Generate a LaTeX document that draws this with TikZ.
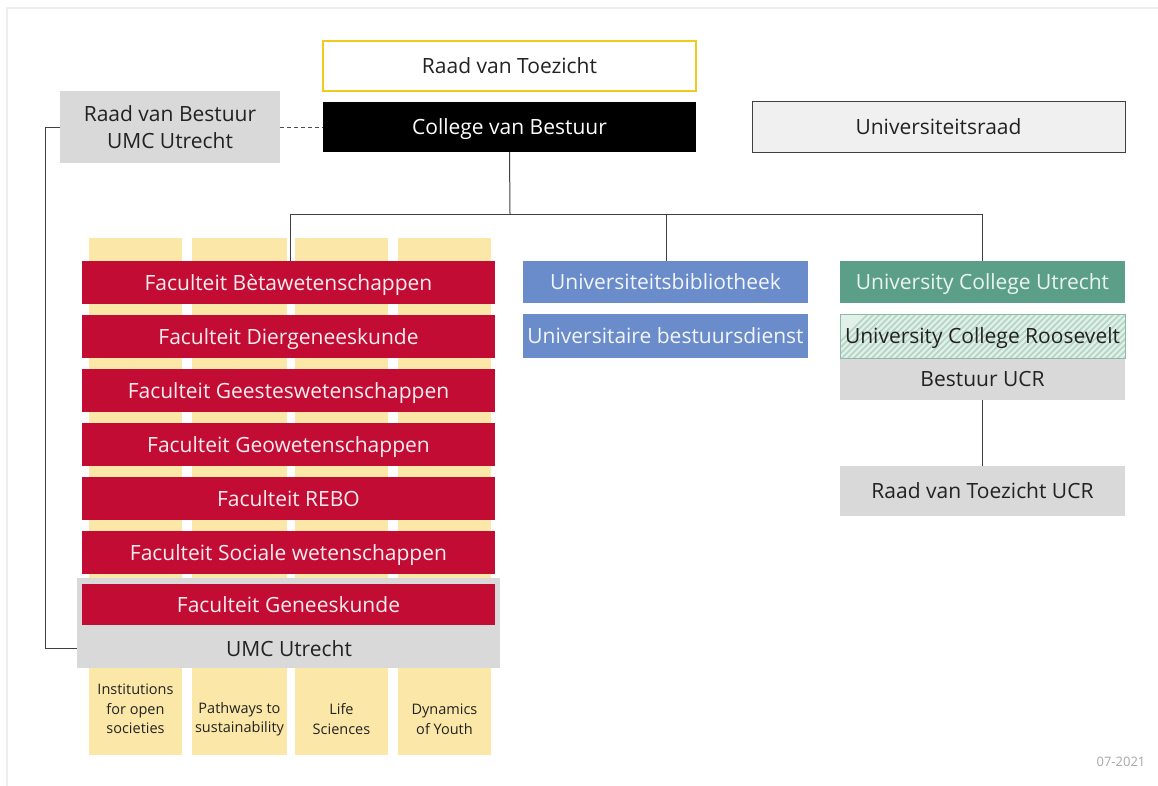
\documentclass[tikz,border=0pt]{standalone}
\usepackage{fontspec}
\setmainfont{Open Sans}
\definecolor{fred}{HTML}{C20C34}
\definecolor{fyel}{HTML}{FBE8A8}
\definecolor{fgray}{HTML}{D9D9D9}
\definecolor{fblue}{HTML}{6A8CCB}
\definecolor{fgreen}{HTML}{5C9F89}
\definecolor{hatchbg}{HTML}{E2F0EA}
\definecolor{hatchln}{HTML}{B3D3C6}
\definecolor{hatchbd}{HTML}{8CBBA9}
\definecolor{tgold}{HTML}{F0CB1E}
\definecolor{txt}{HTML}{222222}
\definecolor{frame}{HTML}{EEEEEE}
\tikzset{
  box/.style={rectangle, inner sep=0pt, outer sep=0pt, anchor=north west, font=\fontsize{21}{22}\selectfont},
  onel/.style={text height=15pt, text depth=0pt},
  fac/.style={box, onel, fill=fred, text=white!92!fred, minimum width=413pt, minimum height=43pt},
  blu/.style={box, onel, fill=fblue, text=white!92!fblue, minimum width=285pt},
  gry/.style={box, fill=fgray, text=txt},
  col/.style={rectangle, inner sep=0pt, outer sep=0pt, anchor=north west, fill=fyel, minimum height=517pt},
  lab/.style={align=center, text=txt, font=\fontsize{14.5}{19.5}\selectfont},
  conn/.style={draw=black!75, line width=1pt},
}
\begin{document}
\begin{tikzpicture}[x=1pt,y=-1pt]
\useasboundingbox (0,0) rectangle (1158,785);
\draw[frame, line width=1.5pt] (7,790) -- (7,8) -- (1165,8);
% yellow columns
\node[col, minimum width=93pt] (c1) at (89,238) {};
\node[col, minimum width=95pt] (c2) at (192,238) {};
\node[col, minimum width=93pt] (c3) at (295,238) {};
\node[col, minimum width=93pt] (c4) at (398,238) {};
\node[lab] (l1) at (135.5,709) {Institutions\\for open\\societies};
\node[lab] (l2) at (239.5,719) {Pathways to\\sustainability};
\node[lab] (l3) at (341.5,719) {Life\\Sciences};
\node[lab] (l4) at (444.5,719) {Dynamics\\of Youth};
% top
\node[box, onel, draw=tgold, line width=2.5pt, fill=white, text=txt, minimum width=373pt, minimum height=50pt] (rvt) at (323,41) {Raad van Toezicht};
\node[box, onel, fill=black, text=white, minimum width=373pt, minimum height=50pt] (cvb) at (323,102) {College van Bestuur};
\node[gry, align=center, minimum width=220pt, minimum height=72pt, font=\fontsize{21}{27}\selectfont] (rvb) at (60,91) {Raad van Bestuur\\UMC Utrecht};
\node[box, onel, fill=black!6, draw=black!75, line width=1pt, text=txt, minimum width=373pt, minimum height=51pt] (ur) at (752,101) {Universiteitsraad};
% faculties
\node[gry, minimum width=423pt, minimum height=90pt] (umc) at (77,578) {};
\node[text=txt, font=\fontsize{21}{22}\selectfont] (umct) at (289,649) {UMC Utrecht};
\node[fac] (f1) at (82,261) {Faculteit Bètawetenschappen};
\node[fac] (f2) at (82,315) {Faculteit Diergeneeskunde};
\node[fac] (f3) at (82,369) {Faculteit Geesteswetenschappen};
\node[fac] (f4) at (82,423) {Faculteit Geowetenschappen};
\node[fac] (f5) at (82,477) {Faculteit REBO};
\node[fac] (f6) at (82,531) {Faculteit Sociale wetenschappen};
\node[fac, minimum height=41pt] (f7) at (82,584) {Faculteit Geneeskunde};
% middle
\node[blu, minimum height=42pt] (ub) at (523,261) {Universiteitsbibliotheek};
\node[blu, minimum height=44pt] (ubd) at (523,314) {Universitaire bestuursdienst};
% right
\node[box, onel, fill=fgreen, text=white!88!fgreen, minimum width=285pt, minimum height=42pt] (ucu) at (840,261) {University College Utrecht};
\node[gry, onel, minimum width=285pt, minimum height=42pt] (bucr) at (840,358) {Bestuur UCR};
\begin{scope}
  \clip (840,314) rectangle (1125,358);
  \fill[hatchbg] (840,314) rectangle (1125,358);
  \foreach \i in {0,...,70} {
    \draw[hatchln, line width=1.5pt] (820+6*\i,362) -- (820+6*\i+50,312);
  }
\end{scope}
\node[box, onel, draw=hatchbd, line width=1pt, text=txt, minimum width=285pt, minimum height=44pt] (ucr) at (840,314) {University College Roosevelt};
\node[gry, onel, minimum width=285pt, minimum height=50pt] (rvtucr) at (840,466) {Raad van Toezicht UCR};
% connectors
\coordinate (bus1) at (510,214);
\draw[conn] (cvb.south) -- (bus1);
\draw[conn] (f1.north -| 290,0) |- (ucu.north |- bus1) -- (ucu.north);
\draw[conn] (ub.north -| 666,0) -- (666,214);
\draw[conn] (bucr.south) -- (rvtucr.north);
\draw[black!70, line width=1pt, dashed, dash pattern=on 4pt off 3pt] (rvb.east |- cvb.west) -- (cvb.west);
\draw[conn] (rvb.west |- 0,127) -| (45,648) -- (umc.west |- 0,648);
% date
\node[text=black!35, font=\fontsize{13}{14}\selectfont] (date) at (1121,762) {07-2021};
\end{tikzpicture}
\end{document}
